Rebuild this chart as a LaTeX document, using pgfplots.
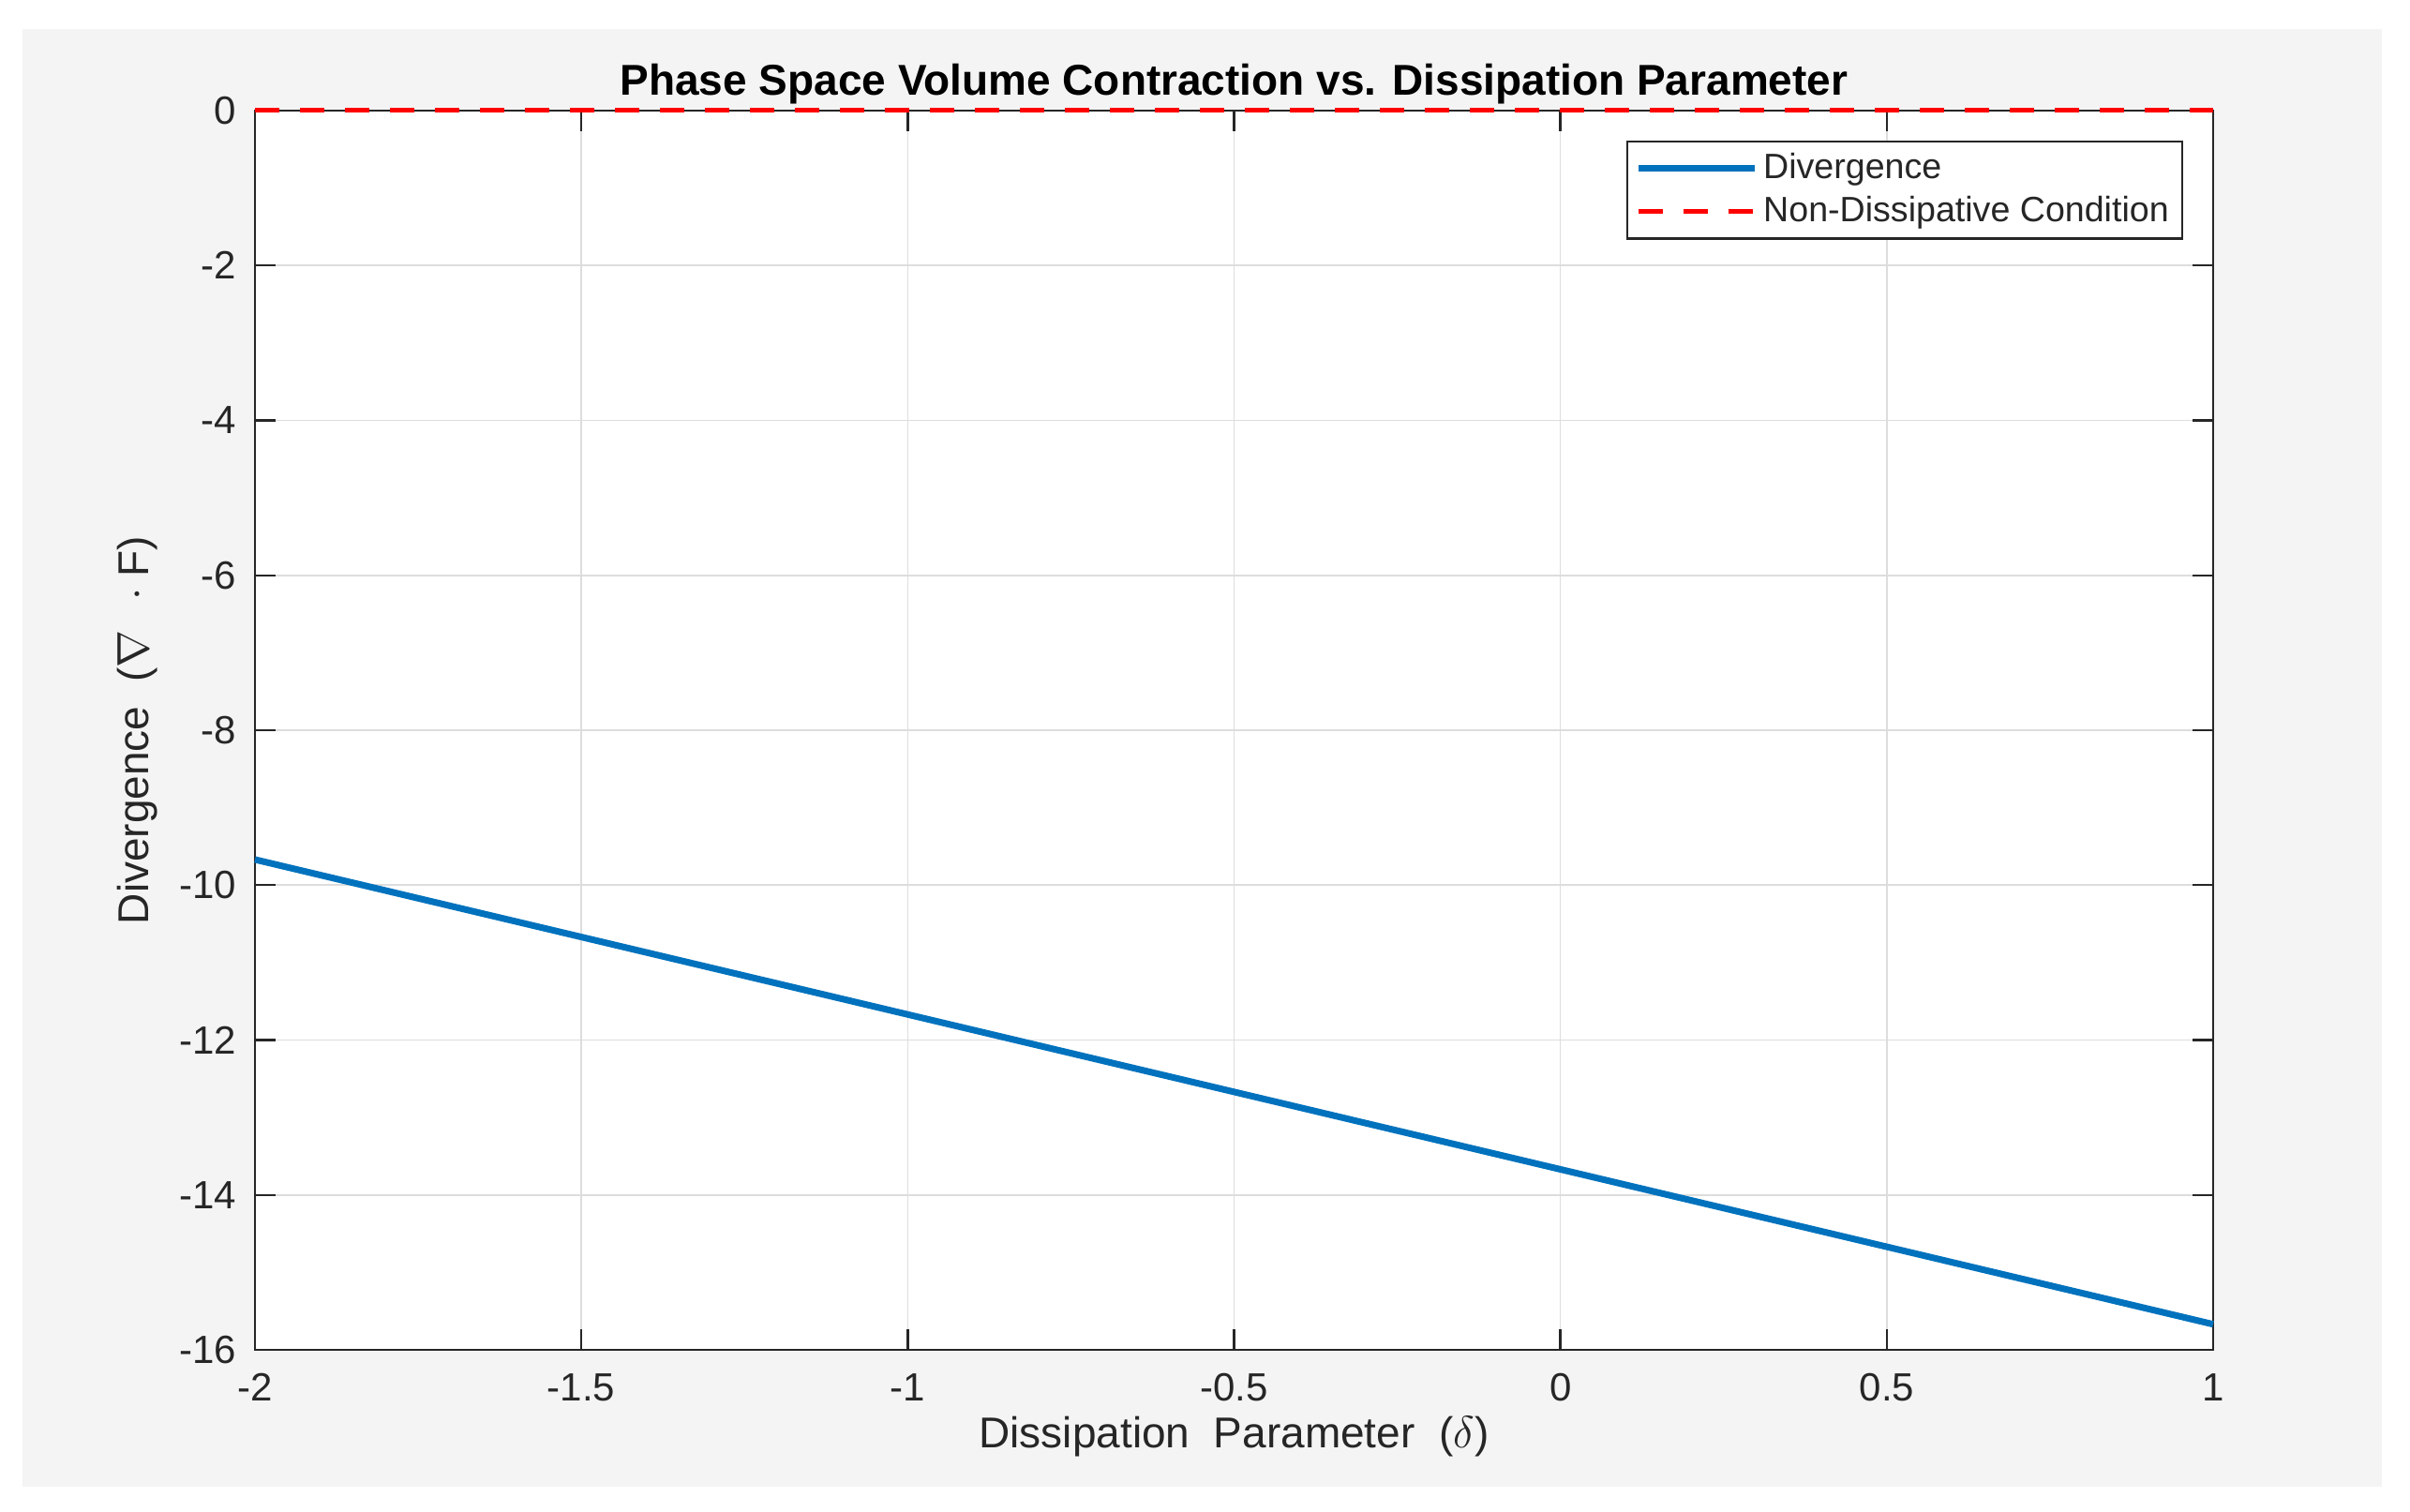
\documentclass[border=0pt]{standalone}
\usepackage{fontspec}
\setmainfont{Liberation Sans}
\usepackage{pgfplots}
\pgfplotsset{compat=1.18}
\definecolor{mblue}{HTML}{0072BD}
\definecolor{panelgray}{HTML}{F4F4F4}
\definecolor{gridgray}{HTML}{DDDDDD}
\definecolor{axgray}{HTML}{262626}

\begin{document}
\begin{tikzpicture}
\path[use as bounding box, fill=white] (-68pt,-43.25pt) rectangle (574.75pt,360pt);
\fill[panelgray] (-62pt,-36.5pt) rectangle (567.25pt,352.25pt);
\begin{axis}[
    scale only axis,
    width=522.25pt, height=330.5pt,
    xmin=-2, xmax=1,
    ymin=-16, ymax=0,
    xtick={-2,-1.5,-1,-0.5,0,0.5,1},
    ytick={-16,-14,-12,-10,-8,-6,-4,-2,0},
    axis background/.style={fill=white},
    axis line style={draw=axgray, line width=0.6pt},
    tick style={draw=axgray, line width=0.6pt},
    major tick length=5.5pt,
    tick align=inside,
    xtick pos=both, ytick pos=both,
    grid=major,
    major grid style={draw=gridgray, line width=0.4pt},
    ticklabel style={font=\fontsize{10.5}{12}\selectfont, text=axgray},
    /pgf/number format/assume math mode=true,
    x tick label style={yshift=-2.75pt},
    y tick label style={xshift=-1.5pt},
    title={Phase Space Volume Contraction vs. Dissipation Parameter},
    title style={font=\bfseries\fontsize{11.5}{13}\selectfont, text=black,
        at={(axis description cs:0.5,1)}, anchor=base, yshift=-2pt},
    xlabel={Dissipation\ \ Parameter\ \ ($\delta$)},
    xlabel style={font=\fontsize{11.5}{13}\selectfont, text=axgray,
        at={(axis description cs:0.5,0)}, anchor=center, yshift=-23.25pt},
    ylabel={Divergence\ \ ($\nabla$\hspace{8pt}$\cdot$\hspace{3pt}F)},
    ylabel style={font=\fontsize{11.5}{13}\selectfont, text=axgray,
        at={(axis description cs:-0.0598,0.5)}, anchor=center},
    clip=false,
    legend cell align=left,
    legend image code/.code={\draw[#1] (0pt,0pt) -- (31pt,0pt);},
    legend style={at={(rel axis cs:1,1)}, anchor=north east,
        xshift=-8pt, yshift=-8pt,
        draw=axgray, line width=0.6pt, fill=white,
        font=\fontsize{9.4}{10.5}\selectfont, text=axgray,
        inner xsep=2pt, inner ysep=2pt, row sep=1.2pt,
        nodes={inner xsep=1.5pt, inner ysep=1pt}},
]
\addplot[mblue, line width=1.75pt] coordinates {
    (-2,-9.67) (-1.5,-10.67) (-1,-11.67) (-0.5,-12.67) (0,-13.67) (0.5,-14.67) (1,-15.67)
};
\addlegendentry{Divergence}
\addplot[red, line width=1.25pt, dash pattern=on 6.5pt off 5.5pt] coordinates {
    (-2,0) (1,0)
};
\addlegendentry{Non-Dissipative Condition}
\end{axis}
\end{tikzpicture}
\end{document}
